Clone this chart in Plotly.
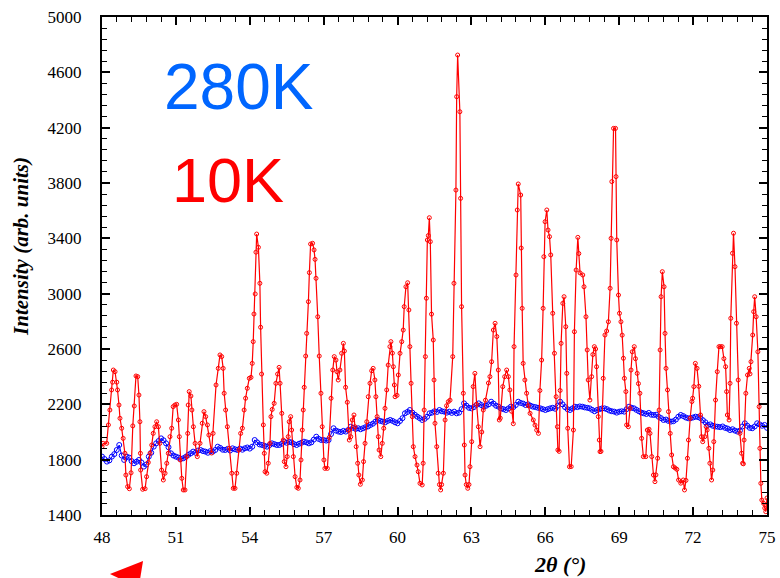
import plotly.graph_objects as go

# ---- data: 10K pattern (2theta in degrees, intensity) ----
red_10k_points = [
    (48.00,1894),(48.05,1918),(48.19,1918),(48.26,2051),(48.32,2159),(48.39,2304),(48.43,2360),(48.46,2448),
    (48.53,2436),(48.60,2360),(48.63,2304),(48.69,2195),(48.73,2099),(48.80,2027),(48.86,1954),(48.93,1846),
    (48.97,1689),(49.04,1605),(49.11,1590),(49.18,1705),(49.25,2044),(49.31,2188),(49.38,2405),(49.45,2400),
    (49.50,2267),(49.54,2074),(49.56,1846),(49.57,1725),(49.65,1586),(49.75,1590),(49.81,1677),(49.88,1780),
    (49.95,1846),(50.02,1906),(50.08,1990),(50.15,2038),(50.22,2074),(50.29,2038),(50.35,1918),(50.42,1725),
    (50.49,1653),(50.56,1702),(50.63,1774),(50.69,1846),(50.76,1966),(50.83,2027),(50.89,2183),(50.96,2195),
    (51.03,2200),(51.10,2087),(51.14,1966),(51.17,1798),(51.24,1665),(51.30,1581),(51.37,1581),(51.44,1822),
    (51.48,1990),(51.50,2195),(51.54,2292),(51.61,2260),(51.65,2159),(51.71,2038),(51.78,1918),(51.87,1822),
    (51.98,1918),(52.07,2063),(52.14,2147),(52.21,2111),(52.28,2051),(52.34,1978),(52.45,1848),(52.51,1990),
    (52.63,2340),(52.72,2460),(52.79,2557),(52.86,2545),(52.92,2460),(52.96,2280),(53.02,2159),(53.09,2038),
    (53.17,1882),(53.27,1702),(53.33,1593),(53.40,1593),(53.47,1702),(53.56,1870),(53.63,1990),(53.70,2027),
    (53.77,2159),(53.83,2244),(53.90,2316),(53.98,2388),(54.05,2395),(54.10,2496),(54.14,2653),(54.17,2853),
    (54.22,2998),(54.25,3300),(54.28,3431),(54.35,3335),(54.41,3075),(54.44,2757),(54.48,2419),(54.55,2051),
    (54.59,1846),(54.62,1713),(54.69,1702),(54.75,1774),(54.82,1918),(54.86,2111),(54.91,2163),(54.99,2207),
    (55.06,2352),(55.13,2419),(55.19,2467),(55.23,2352),(55.30,2135),(55.36,1942),(55.40,1786),(55.47,1749),
    (55.52,1822),(55.56,1966),(55.60,2074),(55.66,2111),(55.70,2014),(55.77,1822),(55.84,1677),(55.91,1600),
    (55.97,1593),(56.04,1653),(56.08,1798),(56.13,2014),(56.17,2159),(56.21,2323),(56.27,2549),(56.31,2713),
    (56.38,2942),(56.42,3152),(56.47,3359),(56.55,3364),(56.61,3316),(56.65,3248),(56.69,3111),(56.76,2833),
    (56.82,2549),(56.89,2280),(56.94,2038),(57.01,1798),(57.05,1737),(57.15,1737),(57.23,1961),(57.30,2244),
    (57.37,2448),(57.43,2545),(57.50,2520),(57.54,2436),(57.59,2376),(57.66,2448),(57.73,2569),(57.80,2641),
    (57.84,2585),(57.89,2323),(57.96,2215),(58.00,2014),(58.04,1942),(58.10,1966),(58.16,2087),(58.23,2123),
    (58.27,2038),(58.32,1894),(58.38,1774),(58.43,1689),(58.49,1622),(58.57,1653),(58.62,1786),(58.68,1918),
    (58.75,2074),(58.81,2255),(58.88,2352),(58.95,2443),(59.01,2460),(59.08,2376),(59.12,2255),(59.17,2111),
    (59.22,1966),(59.25,1870),(59.32,1822),(59.38,1918),(59.44,2027),(59.49,2171),(59.56,2304),(59.62,2484),
    (59.69,2617),(59.73,2653),(59.79,2570),(59.83,2472),(59.87,2340),(59.90,2255),(59.98,2265),(60.03,2412),
    (60.10,2569),(60.17,2653),(60.23,2737),(60.27,2906),(60.34,3050),(60.41,3079),(60.46,2882),(60.50,2617),
    (60.55,2352),(60.60,2111),(60.64,1894),(60.71,1822),(60.79,1761),(60.84,1713),(60.91,1629),(61.00,1617),
    (61.04,1774),(61.08,2159),(61.13,2545),(61.17,2967),(61.21,3388),(61.25,3420),(61.29,3549),(61.33,3376),
    (61.38,2852),(61.45,2665),(61.48,2376),(61.52,2063),(61.59,1894),(61.65,1702),(61.70,1620),(61.75,1581),
    (61.79,1620),(61.86,1702),(61.93,2087),(61.99,2190),(62.06,2219),(62.13,2230),(62.24,2545),(62.29,3075),
    (62.37,3749),(62.40,4424),(62.44,4725),(62.53,4315),(62.56,3689),(62.60,2906),(62.67,2280),(62.71,1906),
    (62.74,1689),(62.79,1620),(62.85,1593),(62.90,1620),(62.94,1749),(63.01,1930),(63.07,2328),(63.14,2424),
    (63.21,2200),(63.28,2038),(63.35,1894),(63.42,2000),(63.48,2159),(63.57,2230),(63.69,2354),(63.75,2400),
    (63.82,2508),(63.89,2737),(63.96,2786),(64.03,2690),(64.09,2448),(64.13,2087),(64.17,2100),(64.27,2328),
    (64.35,2400),(64.43,2448),(64.50,2400),(64.56,2304),(64.63,2150),(64.70,2060),(64.73,2617),(64.81,3135),
    (64.86,3605),(64.90,3793),(65.00,3713),(65.02,3330),(65.06,2894),(65.10,2496),(65.17,2376),(65.24,2280),
    (65.31,2190),(65.38,2135),(65.51,2087),(65.58,2050),(65.65,2014),(65.72,1990),(65.78,2300),(65.85,2520),
    (65.91,2894),(65.94,3267),(65.99,3520),(66.06,3605),(66.11,3460),(66.17,3412),(66.22,3280),(66.30,2858),
    (66.37,2569),(66.44,2255),(66.49,2038),(66.51,1870),(66.56,1860),(66.60,2300),(66.64,2641),(66.71,2930),
    (66.76,2978),(66.83,2761),(66.87,2424),(66.91,2027),(66.98,1749),(67.05,1750),(67.14,2014),(67.18,2725),
    (67.25,3171),(67.32,3407),(67.36,3290),(67.41,3150),(67.52,3135),(67.57,3050),(67.65,2833),(67.70,2593),
    (67.74,2376),(67.81,2231),(67.88,2400),(67.93,2560),(67.99,2617),(68.04,2600),(68.08,2472),(68.15,2111),
    (68.19,1942),(68.22,1858),(68.26,1860),(68.35,2388),(68.42,2701),(68.49,2730),(68.56,2797),(68.63,3039),
    (68.67,3400),(68.70,3810),(68.77,4195),(68.85,4195),(68.87,3846),(68.90,3388),(68.97,2990),(69.01,2858),
    (69.07,2797),(69.12,2700),(69.17,2533),(69.21,2388),(69.27,2292),(69.30,2051),(69.37,2038),(69.44,2171),
    (69.48,2448),(69.53,2580),(69.61,2617),(69.66,2530),(69.73,2424),(69.78,2350),(69.84,2280),(69.91,1954),
    (69.98,1822),(70.08,1822),(70.14,2014),(70.21,2020),(70.25,1990),(70.32,1822),(70.39,1689),(70.45,1641),
    (70.49,1690),(70.56,1810),(70.62,2159),(70.66,2593),(70.70,2978),(70.75,3159),(70.82,3050),(70.86,2713),
    (70.90,2460),(70.96,2304),(71.00,2147),(71.07,1990),(71.13,1834),(71.20,1749),(71.27,1740),(71.34,1730),
    (71.41,1653),(71.50,1630),(71.60,1653),(71.65,1581),(71.71,1650),(71.77,1810),(71.81,1942),(71.88,2099),
    (71.95,2220),(71.98,2244),(72.03,2328),(72.09,2496),(72.16,2460),(72.23,2330),(72.30,2123),(72.34,1966),
    (72.39,1930),(72.47,1966),(72.53,2038),(72.57,2014),(72.64,1882),(72.68,1774),(72.75,1653),(72.80,1725),
    (72.84,1930),(72.91,2231),(72.98,2436),(73.05,2617),(73.11,2617),(73.18,2617),(73.25,2530),(73.32,2472),
    (73.36,2292),(73.39,2123),(73.46,2087),(73.50,2352),(73.53,2822),(73.60,3292),(73.64,3437),(73.70,3195),
    (73.76,2786),(73.83,2376),(73.90,1990),(73.97,1846),(74.01,1774),(74.04,1770),(74.07,1942),(74.14,2280),
    (74.21,2412),(74.28,2460),(74.31,2420),(74.35,2508),(74.42,2701),(74.46,2870),(74.50,2978),(74.56,2833),
    (74.63,2580),(74.68,2183),(74.71,1882),(74.75,1629),(74.79,1508),(74.86,1484),(74.91,1450),(74.95,1424),
    (75.00,1523),
]
red_theta = [p[0] for p in red_10k_points]
red_intensity = [p[1] for p in red_10k_points]

# ---- data: 280K pattern, sampled every 0.1 degree from 48.0 to 75.0 ----
blue_start, blue_step = 48.0, 0.1
blue_280k = [
    1822, 1805, 1786, 1795, 1822, 1840, 1870, 1906, 1830, 1798,   # 48
    1822, 1815, 1790, 1774, 1785, 1798, 1780, 1750, 1765, 1822,   # 49
    1850, 1894, 1918, 1935, 1954, 1940, 1918, 1890, 1846, 1830,   # 50
    1822, 1815, 1805, 1810, 1820, 1834, 1845, 1858, 1850, 1866,   # 51
    1870, 1862, 1858, 1850, 1862, 1858, 1870, 1894, 1885, 1872,   # 52
    1870, 1878, 1866, 1882, 1875, 1870, 1880, 1872, 1882, 1888,   # 53
    1880, 1894, 1942, 1925, 1910, 1906, 1900, 1894, 1905, 1918,   # 54
    1912, 1906, 1906, 1915, 1930, 1922, 1928, 1925, 1912, 1906,   # 55
    1915, 1922, 1930, 1925, 1918, 1925, 1945, 1966, 1950, 1942,   # 56
    1942, 1938, 1942, 1985, 2027, 2010, 2003, 2000, 2008, 2003,   # 57
    2015, 2038, 2030, 2022, 2027, 2020, 2027, 2035, 2040, 2051,   # 58
    2060, 2075, 2087, 2080, 2075, 2070, 2080, 2087, 2080, 2070,   # 59
    2063, 2080, 2100, 2135, 2145, 2159, 2140, 2125, 2111, 2100,   # 60
    2087, 2095, 2110, 2135, 2140, 2150, 2145, 2159, 2150, 2147,   # 61
    2140, 2147, 2138, 2147, 2135, 2140, 2165, 2207, 2190, 2175,   # 62
    2171, 2180, 2195, 2207, 2195, 2183, 2190, 2200, 2219, 2205,   # 63
    2190, 2183, 2170, 2165, 2159, 2170, 2183, 2180, 2195, 2219,   # 64
    2210, 2205, 2195, 2200, 2190, 2183, 2180, 2175, 2171, 2165,   # 65
    2159, 2165, 2171, 2175, 2168, 2190, 2219, 2200, 2180, 2165,   # 66
    2159, 2170, 2183, 2180, 2185, 2183, 2178, 2175, 2171, 2160,   # 67
    2150, 2159, 2165, 2170, 2171, 2165, 2155, 2150, 2147, 2140,   # 68
    2147, 2150, 2147, 2165, 2183, 2175, 2171, 2160, 2150, 2140,   # 69
    2135, 2130, 2138, 2125, 2123, 2125, 2110, 2100, 2087, 2090,   # 70
    2080, 2075, 2078, 2090, 2110, 2123, 2115, 2105, 2099, 2100,   # 71
    2105, 2111, 2108, 2100, 2085, 2070, 2051, 2055, 2045, 2040,   # 72
    2038, 2035, 2040, 2030, 2025, 2014, 2020, 2010, 2003, 2010,   # 73
    2040, 2063, 2045, 2030, 2027, 2040, 2063, 2055, 2045, 2051,   # 74
    2030,                                                         # 75
]
blue_theta = [round(blue_start + blue_step * i, 2) for i in range(len(blue_280k))]

# ---- axes ----
x_range = [48, 75]
x_tick_values = [48, 51, 54, 57, 60, 63, 66, 69, 72, 75]
y_range = [1400, 5000]
y_tick_values = [1400, 1800, 2200, 2600, 3000, 3400, 3800, 4200, 4600, 5000]

label_280k = "280K"
label_10k = "10K"
x_title = "2θ (°)"
y_title = "Intensity (arb. units)"

RED = "#ff0000"
BLUE = "#0000ff"
SERIF = "Liberation Serif"

fig = go.Figure()

fig.add_trace(go.Scatter(
    x=blue_theta, y=blue_280k, mode="lines+markers", name=label_280k,
    line=dict(color=BLUE, width=1),
    marker=dict(symbol="circle-open", size=5, color=BLUE, line=dict(width=1)),
    showlegend=False,
))
fig.add_trace(go.Scatter(
    x=red_theta, y=red_intensity, mode="lines+markers", name=label_10k,
    line=dict(color=RED, width=1.2),
    marker=dict(symbol="circle-open", size=4, color=RED, line=dict(width=1)),
    showlegend=False,
))

axis_common = dict(
    showline=True, linecolor="black", linewidth=2, mirror="allticks",
    ticks="inside", ticklen=8, tickwidth=1.5, tickcolor="black",
    showgrid=False, zeroline=False, ticklabeloverflow="allow",
    tickfont=dict(family=SERIF, size=17, color="black"),
)

fig.update_xaxes(
    range=x_range, tickmode="array", tickvals=x_tick_values,
    ticktext=[str(v) for v in x_tick_values],
    minor=dict(dtick=0.6, tick0=48, ticks="inside", ticklen=5, tickwidth=1, tickcolor="black"),
    ticklabelstandoff=6,
    **axis_common,
)
fig.update_yaxes(
    range=y_range, tickmode="array", tickvals=y_tick_values,
    ticktext=[str(v) for v in y_tick_values],
    minor=dict(dtick=80, tick0=1400, ticks="inside", ticklen=5, tickwidth=1, tickcolor="black"),
    ticklabelstandoff=15,
    **axis_common,
)

fig.add_annotation(text=label_280k, xref="paper", yref="paper", x=0.205, y=0.86,
                   xanchor="center", yanchor="middle", showarrow=False,
                   font=dict(family="Liberation Sans", size=64, color="#0066ff"))
fig.add_annotation(text=label_10k, xref="paper", yref="paper", x=0.19, y=0.673,
                   xanchor="center", yanchor="middle", showarrow=False,
                   font=dict(family="Liberation Sans", size=63, color=RED))
fig.add_annotation(text="<b><i>" + y_title + "</i></b>", xref="paper", yref="paper",
                   x=-0.122, y=0.54, xanchor="center", yanchor="middle", textangle=-90,
                   showarrow=False, font=dict(family=SERIF, size=21, color="black"))
fig.add_annotation(text="<b><i>" + x_title + "</i></b>", xref="paper", yref="paper",
                   x=0.689, y=-0.10, xanchor="center", yanchor="middle",
                   showarrow=False, font=dict(family=SERIF, size=22, color="black"))

# red arrow tip cut at the bottom-left edge
fig.add_shape(type="path", xref="paper", yref="paper",
              path="M 0.012 -0.1185 L 0.0617 -0.0924 L 0.0571 -0.13 L 0.03 -0.13 Z",
              fillcolor=RED, line=dict(width=0))

fig.update_layout(
    width=780, height=578,
    margin=dict(l=102, r=13, t=17, b=63, autoexpand=False),
    paper_bgcolor="white", plot_bgcolor="white",
    showlegend=False,
)

# remove the default 8px page margin so the figure fills the window exactly
fig.write_html("out.html",
               config={"displayModeBar": False},
               post_script="document.body.style.margin='0';document.body.style.overflow='hidden';")
